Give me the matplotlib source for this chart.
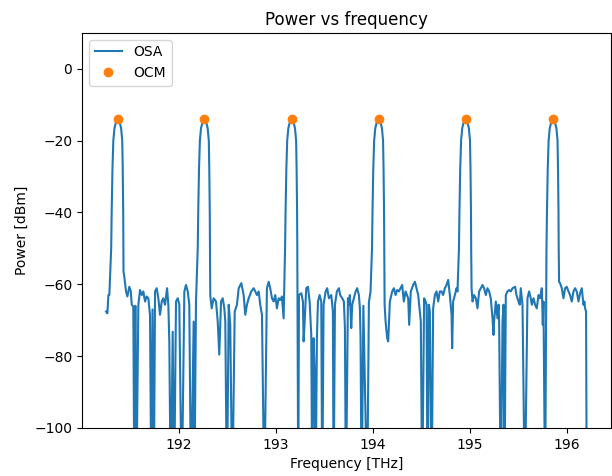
import matplotlib
matplotlib.use("Agg")
import matplotlib.pyplot as plt

# OSA trace (THz, dBm); -120 = dip below the axis
osa_freq = [
    191.251, 191.265, 191.275, 191.285,
    191.304, 191.309, 191.317, 191.326, 191.338, 191.352, 191.372, 191.392, 191.406, 191.418, 191.423, 191.428, 191.430,
    191.431, 191.437, 191.457, 191.471, 191.491, 191.506, 191.516, 191.532, 191.543, 191.553,
    191.563, 191.584, 191.601, 191.619, 191.635, 191.653, 191.670, 191.687, 191.704, 191.718,
    191.730, 191.743, 191.756, 191.773, 191.790, 191.807, 191.825, 191.841, 191.859, 191.880,
    191.893, 191.903, 191.918, 191.938, 191.952, 191.972, 191.990, 192.006, 192.031, 192.058,
    192.075, 192.093, 192.109, 192.127, 192.154, 192.161, 192.178,
    192.196, 192.201, 192.209, 192.218, 192.230, 192.244, 192.264, 192.284, 192.298, 192.310, 192.315, 192.320, 192.322,
    192.325, 192.340, 192.360, 192.384, 192.402, 192.418, 192.436, 192.453, 192.470, 192.480,
    192.497, 192.515, 192.531, 192.552, 192.577, 192.600, 192.618, 192.645, 192.669, 192.686,
    192.703, 192.721, 192.748, 192.772, 192.789, 192.806, 192.824, 192.840, 192.858, 192.882,
    192.909, 192.927, 192.943, 192.961, 192.978, 192.995, 193.012, 193.030, 193.046, 193.064,
    193.081,
    193.096, 193.101, 193.109, 193.118, 193.130, 193.144, 193.164, 193.184, 193.198, 193.210, 193.215, 193.220, 193.222,
    193.232, 193.239, 193.263, 193.280, 193.287, 193.298, 193.314, 193.332, 193.349, 193.366,
    193.376, 193.390, 193.401, 193.411, 193.424, 193.435, 193.452, 193.469, 193.479, 193.493,
    193.514, 193.530, 193.548, 193.572, 193.589, 193.596, 193.610, 193.630, 193.651, 193.664,
    193.685, 193.702, 193.713, 193.723, 193.744, 193.754, 193.764, 193.778, 193.788, 193.805,
    193.823, 193.839, 193.857, 193.867, 193.874, 193.885, 193.903, 193.942, 193.960, 193.977,
    193.992, 193.997, 194.005, 194.014, 194.026, 194.040, 194.060, 194.080, 194.094, 194.106, 194.111, 194.116, 194.118,
    194.122, 194.132, 194.148, 194.159, 194.176, 194.200, 194.217, 194.235, 194.251, 194.269,
    194.286, 194.303, 194.320, 194.338, 194.365, 194.375, 194.392, 194.416, 194.434, 194.451,
    194.468, 194.485, 194.495, 194.509, 194.529, 194.544, 194.554, 194.564, 194.578, 194.588,
    194.606, 194.622, 194.640, 194.657, 194.674, 194.691, 194.709, 194.725, 194.743, 194.760,
    194.777, 194.794, 194.812, 194.818, 194.828, 194.846, 194.863, 194.873,
    194.888, 194.893, 194.901, 194.910, 194.922, 194.936, 194.956, 194.976, 194.990, 195.002, 195.007, 195.012, 195.014,
    195.018, 195.028, 195.044, 195.062, 195.079, 195.096, 195.113, 195.131, 195.147, 195.165,
    195.182, 195.199, 195.216, 195.234, 195.244, 195.250, 195.268, 195.285, 195.296, 195.302,
    195.319, 195.337, 195.347, 195.357, 195.371, 195.388, 195.405, 195.422, 195.440, 195.467,
    195.481, 195.502, 195.515, 195.525, 195.543, 195.567, 195.594, 195.611, 195.628, 195.639,
    195.656, 195.673, 195.690, 195.708, 195.724, 195.742, 195.752, 195.759, 195.776,
    195.790, 195.795, 195.803, 195.812, 195.824, 195.838, 195.858, 195.878, 195.892, 195.904, 195.909, 195.914, 195.916,
    195.920, 195.930, 195.948, 195.965, 195.982, 195.999, 196.017, 196.033, 196.051, 196.068,
    196.085, 196.102, 196.120, 196.136, 196.154, 196.171, 196.181, 196.188, 196.198, 196.205,
]
osa_power = [
    -67.6, -68.1, -63.0, -63.0,
    -50.0, -40.0, -28.0, -20.0, -16.5, -15.0, -14.4, -15.0, -16.5, -20.0, -28.0, -40.0, -50.0,
    -56.5, -57.4, -62.0, -63.4, -60.7, -62.0, -65.7, -66.2, -120.0, -66.0,
    -120.0, -65.7, -61.6, -63.0, -62.0, -64.8, -63.4, -63.9, -68.5, -120.0,
    -67.0, -120.0, -62.0, -61.1, -63.9, -68.5, -64.8, -63.9, -65.7, -61.1,
    -65.7, -75.9, -120.0, -73.2, -120.0, -64.8, -63.9, -65.7, -120.0, -62.0,
    -60.2, -62.0, -65.7, -120.0, -70.4, -120.0, -64.8,
    -50.0, -40.0, -28.0, -20.0, -16.5, -15.0, -14.4, -15.0, -16.5, -20.0, -28.0, -40.0, -50.0,
    -63.0, -66.7, -63.9, -64.8, -70.4, -79.6, -64.8, -63.9, -66.7, -70.4,
    -120.0, -65.7, -71.3, -120.0, -67.6, -65.7, -61.1, -59.7, -63.0, -68.5,
    -65.7, -63.9, -62.0, -61.1, -62.0, -63.0, -62.0, -65.7, -68.5, -120.0,
    -61.1, -59.3, -61.1, -63.9, -64.8, -63.0, -66.7, -63.9, -64.4, -63.4,
    -69.5,
    -50.0, -40.0, -28.0, -20.0, -16.5, -15.0, -14.4, -15.0, -16.5, -20.0, -28.0, -40.0, -50.0,
    -120.0, -63.0, -62.5, -64.8, -75.9, -70.4, -61.1, -60.7, -64.8, -74.1,
    -120.0, -75.0, -84.3, -120.0, -75.0, -64.8, -63.0, -64.8, -120.0, -65.7,
    -62.0, -61.1, -63.9, -63.0, -67.6, -120.0, -65.7, -62.0, -61.1, -63.0,
    -63.9, -64.8, -72.2, -120.0, -63.9, -65.7, -63.0, -72.2, -65.7, -63.9,
    -62.0, -61.1, -63.0, -66.7, -75.0, -120.0, -66.0, -120.0, -65.0, -62.0,
    -50.0, -40.0, -28.0, -20.0, -16.5, -15.0, -14.4, -15.0, -16.5, -20.0, -28.0, -40.0, -50.0,
    -65.7, -70.4, -75.0, -75.9, -64.8, -62.0, -61.1, -63.0, -61.6, -62.0,
    -61.1, -60.2, -64.8, -62.0, -63.9, -71.3, -62.0, -60.2, -59.3, -61.1,
    -63.0, -67.6, -70.4, -120.0, -63.9, -64.8, -65.7, -120.0, -65.7, -67.6,
    -120.0, -66.7, -63.0, -62.0, -64.8, -62.0, -62.0, -63.0, -61.1, -60.2,
    -58.8, -63.0, -68.5, -77.8, -64.8, -63.0, -61.1, -62.0,
    -50.0, -40.0, -28.0, -20.0, -16.5, -15.0, -14.4, -15.0, -16.5, -20.0, -28.0, -40.0, -50.0,
    -61.1, -64.8, -63.0, -63.9, -66.7, -62.0, -61.1, -60.2, -61.1, -63.0,
    -61.1, -62.0, -63.9, -69.5, -74.1, -70.4, -64.8, -69.5, -65.7, -70.4,
    -120.0, -70.4, -65.7, -120.0, -63.0, -62.0, -61.6, -62.0, -61.1, -60.7,
    -63.0, -64.8, -65.7, -61.1, -65.7, -120.0, -63.9, -62.0, -63.9, -65.7,
    -63.9, -65.7, -66.7, -63.0, -63.9, -61.1, -71.3, -64.8, -120.0,
    -50.0, -40.0, -28.0, -20.0, -16.5, -15.0, -14.4, -15.0, -16.5, -20.0, -28.0, -40.0, -50.0,
    -59.3, -59.7, -61.1, -63.9, -61.1, -60.7, -62.0, -63.0, -64.8, -62.0,
    -61.1, -62.0, -64.8, -62.5, -61.1, -65.7, -64.8, -66.7, -67.6, -120.0,
]

# OCM channel powers
ocm_freq = [191.372, 192.264, 193.164, 194.060, 194.956, 195.858]
ocm_power = [-13.9, -13.9, -13.9, -13.9, -13.9, -13.9]


def main():
    assert len(osa_freq) == len(osa_power), (len(osa_freq), len(osa_power))

    fig = plt.figure(figsize=(6.12, 4.76), dpi=100)
    ax = fig.add_axes([0.134, 0.101, 0.864, 0.830])

    ax.plot(osa_freq, osa_power, label="OSA")
    ax.plot(ocm_freq, ocm_power, "o", label="OCM")

    ax.set_ylim(-100, 10)
    ax.set_xlabel("Frequency [THz]")
    ax.set_ylabel("Power [dBm]")
    ax.set_title("Power vs frequency")
    ax.legend(loc="upper left")

    fig.savefig("out.png", dpi=100)


if __name__ == "__main__":
    main()
